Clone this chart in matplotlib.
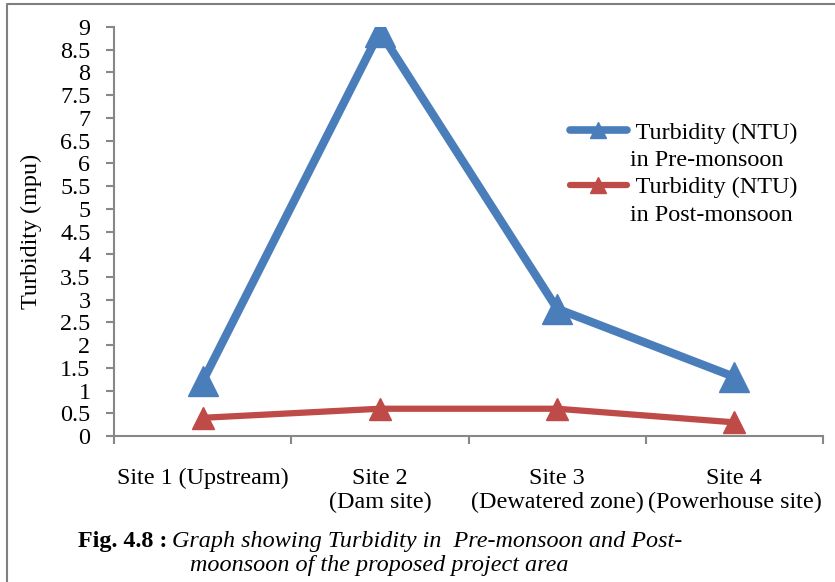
import matplotlib
matplotlib.use("Agg")
import matplotlib.pyplot as plt
from matplotlib.lines import Line2D

# Data
sites = ["Site 1 (Upstream)", "Site 2\n(Dam site)", "Site 3\n(Dewatered zone)", "Site 4\n(Powerhouse site)"]
pre_monsoon = [1.2, 8.9, 2.8, 1.3]
post_monsoon = [0.4, 0.6, 0.6, 0.3]
y_ticks = [0, 0.5, 1, 1.5, 2, 2.5, 3, 3.5, 4, 4.5, 5, 5.5, 6, 6.5, 7, 7.5, 8, 8.5, 9]
y_tick_labels = ["0", "0.5", "1", "1.5", "2", "2.5", "3", "3.5", "4", "4.5", "5",
                 "5.5", "6", "6.5", "7", "7.5", "8", "8.5", "9"]

BLUE = "#4A7EBB"
RED = "#BE4B48"
AXIS_GRAY = "#878787"
FONT = "Liberation Serif"
FS = 17.4

plt.rcParams["font.family"] = [FONT, "DejaVu Serif"]

W, H = 835, 582
fig = plt.figure(figsize=(W / 100, H / 100), dpi=100)
ax = fig.add_axes([114 / W, 1 - 436 / H, (823 - 114) / W, (436 - 27) / H])

x = list(range(len(sites)))
ax.plot(x, pre_monsoon, color=BLUE, lw=6, marker="^", ms=21,
        solid_joinstyle="round", solid_capstyle="round", zorder=3)
ax.plot(x, post_monsoon, color=RED, lw=4.5, marker="^", ms=16,
        solid_joinstyle="round", solid_capstyle="round", zorder=3)

ax.set_xlim(-0.5, len(sites) - 0.5)
ax.set_ylim(0, 9)
ax.set_yticks(y_ticks)
ax.set_yticklabels(y_tick_labels)

# category boundaries carry the x ticks, labels sit at category centres
ax.set_xticks([i - 0.5 for i in range(len(sites) + 1)])
ax.set_xticklabels([])
ax.set_xticks(x, minor=True)
ax.set_xticklabels(sites, minor=True, fontsize=FS, linespacing=1.2)
ax.tick_params(axis="x", which="minor", length=0, pad=23)
ax.tick_params(axis="x", which="major", direction="out", length=6, width=1.5,
               color=AXIS_GRAY)
ax.tick_params(axis="y", direction="out", length=6, width=1.5, color=AXIS_GRAY,
               labelsize=FS, pad=11)

for side in ("top", "right"):
    ax.spines[side].set_visible(False)
for side in ("left", "bottom"):
    ax.spines[side].set_color(AXIS_GRAY)
    ax.spines[side].set_linewidth(1.5)

ax.set_ylabel("Turbidity (mpu)", fontsize=FS)
ax.yaxis.set_label_coords((42 - 114) / (823 - 114), 0.5)

# Legend
h_pre = Line2D([], [], color=BLUE, lw=5.5, marker="^", ms=11, solid_capstyle="round")
h_post = Line2D([], [], color=RED, lw=4.5, marker="^", ms=11, solid_capstyle="round")
h_blank = Line2D([], [], color="none", lw=0)
fig.legend([h_pre, h_blank, h_post, h_blank],
           [" Turbidity (NTU)", "in Pre-monsoon", " Turbidity (NTU)", "in Post-monsoon"],
           loc="upper left", bbox_to_anchor=(570 / W, 1 - 122 / H),
           frameon=False, fontsize=FS, handlelength=2.35, handletextpad=0.15,
           labelspacing=0.22, borderpad=0, borderaxespad=0)

# Caption
CAP_FS = 17.4
fig.text(78 / W, 1 - 542 / H, "Fig. 4.8 :", fontsize=CAP_FS, fontweight="bold",
         va="center", ha="left")
fig.text(172 / W, 1 - 542 / H, "Graph showing Turbidity in  Pre-monsoon and Post-",
         fontsize=CAP_FS, style="italic", va="center", ha="left")
fig.text(190 / W, 1 - 566 / H, "moonsoon of the proposed project area",
         fontsize=CAP_FS, style="italic", va="center", ha="left")

# Outer frame (top and left edges)
fig.add_artist(Line2D([7 / W, 7 / W, 1], [0, 1 - 4 / H, 1 - 4 / H],
                      transform=fig.transFigure, color="#7F7F7F", lw=1.5))

fig.savefig("out.png", dpi=100)
